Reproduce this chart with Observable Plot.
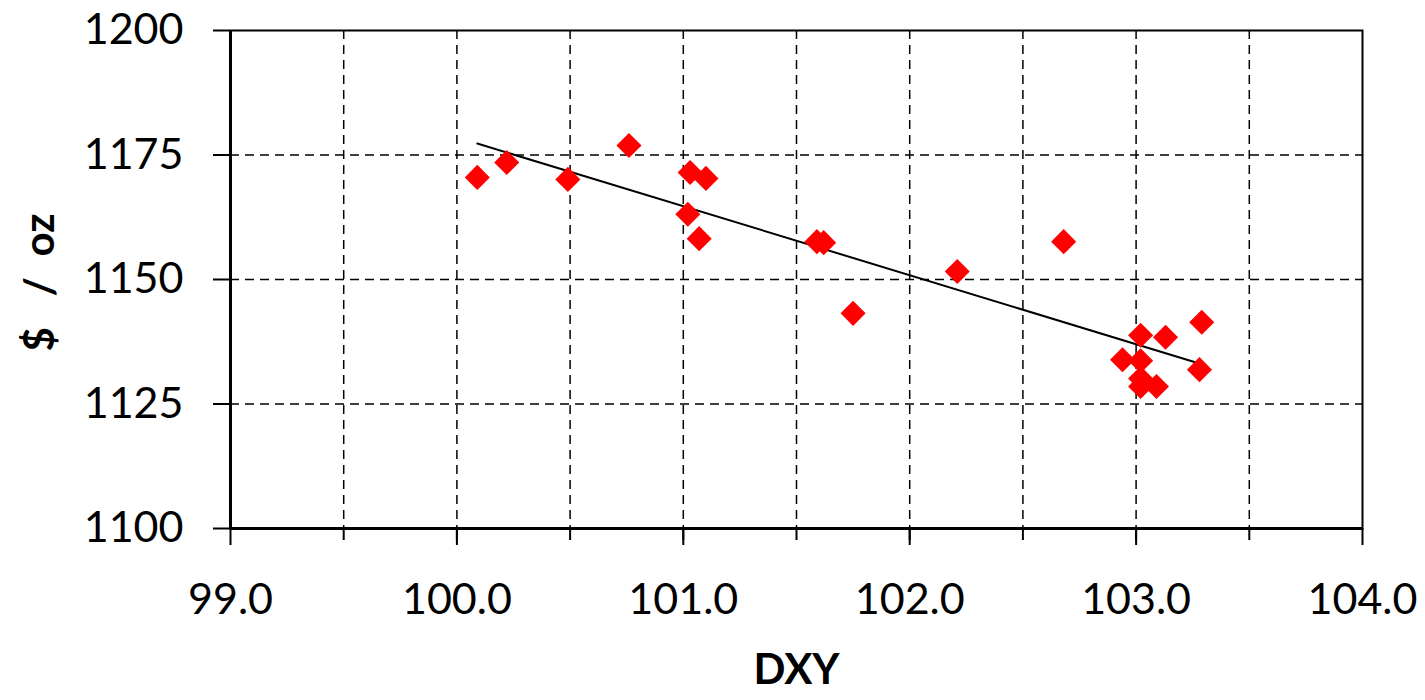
<!DOCTYPE html>
<html>
<head>
<meta charset="utf-8">
<script src="https://cdn.jsdelivr.net/npm/d3@7"></script>
<script src="https://cdn.jsdelivr.net/npm/@observablehq/plot@0.6"></script>
<style>
  html, body { margin: 0; padding: 0; background: white; }
</style>
</head>
<body>
<div id="chart"></div>
<script>
const dxy = [100.09, 100.22, 100.49, 100.76, 101.03, 101.10, 101.02, 101.07, 101.59, 101.62, 101.75, 102.21, 102.68, 102.94, 103.02, 103.13, 103.29, 103.28, 103.02, 103.02, 103.02, 103.09];
const gold = [1170.5, 1173.5, 1170.1, 1176.9, 1171.5, 1170.3, 1163.1, 1158.2, 1157.6, 1157.4, 1143.2, 1151.6, 1157.6, 1133.9, 1138.8, 1138.4, 1141.4, 1131.9, 1133.7, 1130.1, 1128.5, 1128.5];
const xTicks = [99, 100, 101, 102, 103, 104];
const xMinor = [99.5, 100, 100.5, 101, 101.5, 102, 102.5, 103, 103.5];
const yTicks = [1100, 1125, 1150, 1175, 1200];
const yGrid = [1125, 1150, 1175];
const xLabel = "DXY";
const yLabel = "$\u00a0\u00a0\u00a0/\u00a0\u00a0oz";

const data = dxy.map((x, i) => ({x, y: gold[i]}));
const dash = {stroke: "black", strokeOpacity: 1, strokeDasharray: "9,6", strokeWidth: 1.5};

const chart = Plot.plot({
  width: 1425,
  height: 700,
  marginLeft: 230,
  marginRight: 63,
  marginTop: 30,
  marginBottom: 172,
  x: {domain: [99, 104]},
  y: {domain: [1100, 1200]},
  style: {fontFamily: "Lato, 'Open Sans', sans-serif", background: "white", color: "black"},
  marks: [
    Plot.gridX(xMinor, dash),
    Plot.gridY(yGrid, dash),
    Plot.frame({stroke: "black", strokeWidth: 2}),
    Plot.ruleX([99], {stroke: "black", strokeWidth: 3}),
    Plot.ruleY([1100], {stroke: "black", strokeWidth: 3}),
    Plot.axisY({ticks: yTicks, tickSize: 17, tickPadding: 30, fontSize: 43, label: null, strokeWidth: 2, tickFormat: d => String(d)}),
    Plot.axisX({ticks: xTicks, tickSize: 17, tickPadding: 38, fontSize: 43, label: null, strokeWidth: 2, tickFormat: d => d.toFixed(1)}),
    Plot.axisX({ticks: xMinor, tickSize: 12, label: null, strokeWidth: 2, tickFormat: () => ""}),
    Plot.linearRegressionY(data, {x: "x", y: "y", stroke: "black", strokeWidth: 2, ci: 0}),
    Plot.dot(data, {x: "x", y: "y", symbol: "diamond2", fill: "#ff0000", stroke: "none", r: 11.3}),
    Plot.text([yLabel], {text: d => d, frameAnchor: "left", textAnchor: "middle", rotate: -90, dx: -190, dy: 3, fontWeight: "bold", fontSize: 42, fill: "black"}),
    Plot.text([xLabel], {text: d => d, frameAnchor: "bottom", dy: 155, fontWeight: "bold", fontSize: 42, fill: "black"})
  ]
});
document.getElementById("chart").appendChild(chart);
</script>
</body>
</html>
